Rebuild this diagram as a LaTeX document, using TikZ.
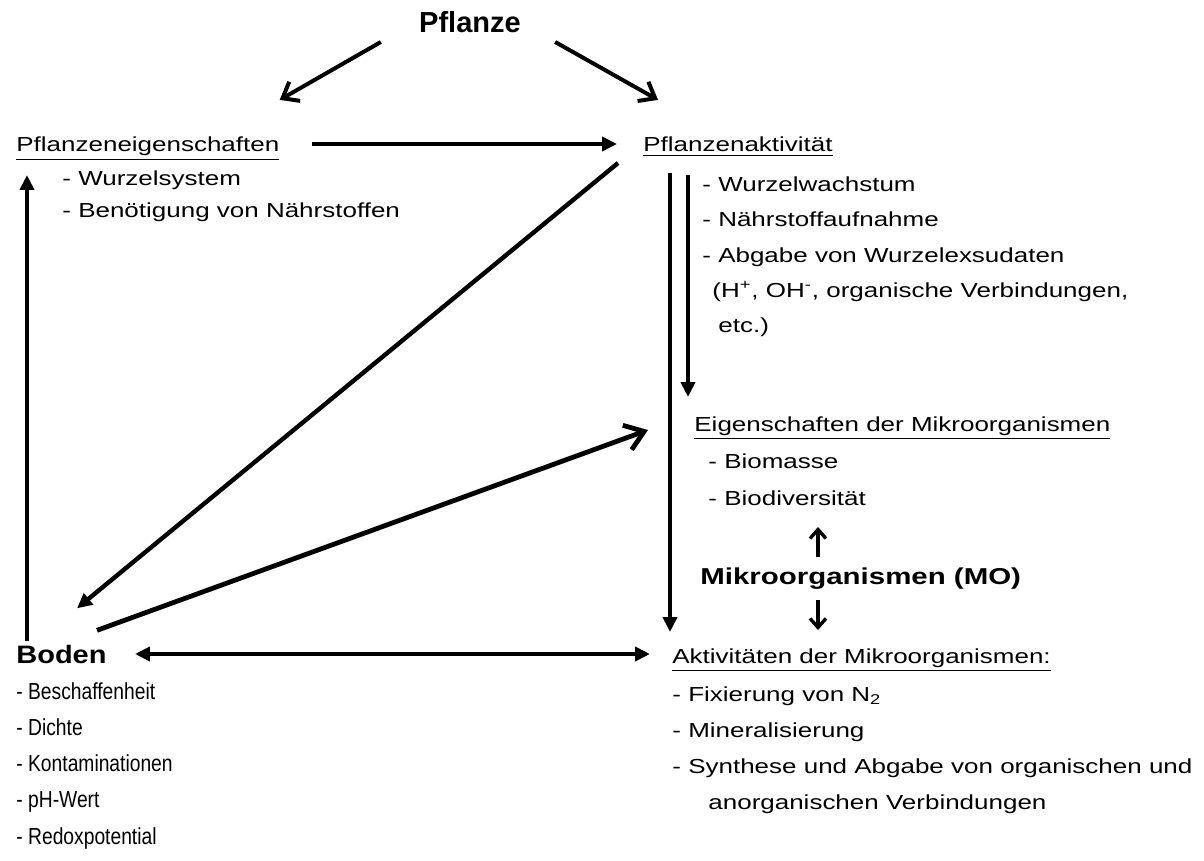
\documentclass[tikz,border=0pt]{standalone}
\usepackage{fontspec}
\setmainfont{Liberation Sans}[FakeStretch=1.28]
\newfontfamily\plainfont{Liberation Sans}
\newfontfamily\narrowfont{Liberation Sans}[FakeStretch=0.83]
\newfontfamily\bodenfont{Liberation Sans}[FakeStretch=1.15]
\usetikzlibrary{arrows.meta}

\begin{document}
\begin{tikzpicture}[x=0.5pt, y=-0.5pt,
    txt/.style={inner sep=0pt, anchor=base west, font=\fontsize{10.15}{12}\selectfont},
    narrow/.style={txt, font=\narrowfont\fontsize{11.6}{13}\selectfont},
    fat/.style={line width=2.2pt, -{Triangle[length=7.5pt, width=7pt]}},
    barb/.style={line width=2pt, -{Straight Barb[length=7pt, width=11pt]}},
    thin/.style={line width=1.7pt, -{Straight Barb[length=4.5pt, width=8pt]}}]
    \useasboundingbox (0,0) rectangle (1204,861);

    % Pflanze
    \node[inner sep=0pt, anchor=base, font=\plainfont\fontsize{14.5}{16}\selectfont\bfseries] (pfl) at (470,33) {Pflanze};

    \node[txt] (pe) at (16,152) {\underline{Pflanzeneigenschaften}};
    \node[txt] (pe1) at (62,186) {- Wurzelsystem};
    \node[txt] (pe2) at (62,218) {- Benötigung von Nährstoffen};

    \node[txt] (pa) at (643,152) {\underline{Pflanzenaktivität}};
    \foreach \x/\y/\t [count=\i] in {702/192/{- Wurzelwachstum}, 702/227/{- Nährstoffaufnahme},
        702/263/{- Abgabe von Wurzelexsudaten},
        712/297/{(H\textsuperscript{+}, OH\textsuperscript{-}, organische Verbindungen,}, 718/332/{etc.)}}
        \node[txt] (pa\i) at (\x,\y) {\t};

    % Mikroorganismen
    \node[txt] (em) at (694,431) {\underline{Eigenschaften der Mikroorganismen}};
    \node[txt] (em1) at (708,468) {- Biomasse};
    \node[txt] (em2) at (708,505) {- Biodiversität};
    \node[txt, font=\fontsize{11.5}{14}\selectfont\bfseries] (mo) at (700,584) {Mikroorganismen (MO)};

    \node[txt] (am) at (672,663) {\underline{Aktivitäten der Mikroorganismen:}};
    \foreach \x/\y/\t [count=\i] in {672/701/{- Fixierung von N\textsubscript{2}}, 672/737/{- Mineralisierung},
        672/773/{- Synthese und Abgabe von organischen und}, 708/809/{anorganischen Verbindungen}}
        \node[txt] (am\i) at (\x,\y) {\t};

    % Boden
    \node[txt, font=\bodenfont\fontsize{12.6}{14}\selectfont\bfseries] (boden) at (16,663) {Boden};
    \foreach \t [count=\i] in {Beschaffenheit, Dichte, Kontaminationen, pH-Wert, Redoxpotential}
        \node[narrow] (bd\i) at (16,{699+36.3*(\i-1)}) {- \t};

    % Pfeile
    \draw[barb] ([shift={(-38,9)}]pfl.base west) -- ([shift={(0,-37)}]pe.north east);
    \draw[barb] ([shift={(34,9)}]pfl.base east) -- ([shift={(15,-37)}]pa.north west);
    \draw[fat] ([shift={(32,-8)}]pe.base east) -- ([shift={(-26,-8)}]pa.base west);
    \draw[fat] ([shift={(-25,11)}]pa.base west) -- ([shift={(61,-36)}]boden.north west);
    \draw[barb, line width=2.4pt, -{Straight Barb[length=9pt, width=13pt]}] ([shift={(81,-14)}]boden.north west) -- ([shift={(-46,-1)}]em.base west);
    \draw[fat] ([shift={(11,-3)}]boden.north west) -- ([shift={(11,23)}]pe.base west);
    \draw[fat, {Triangle[length=7.5pt, width=7pt]}-{Triangle[length=7.5pt, width=7pt]}] ([shift={(28,-9)}]boden.base east) -- ([shift={(-22,-9)}]am.base west);
    \draw[fat] ([shift={(27,21)}]pa.base west) -- ([shift={(-2,-31)}]am.base west);
    \draw[fat] ([shift={(45,23)}]pa.base west) -- ([shift={(-6,-34)}]em.base west);
    \draw[thin] ([shift={(118,-27)}]mo.base west) -- ([shift={(110,22)}]em2.base west);
    \draw[thin] ([shift={(118,16)}]mo.base west) -- ([shift={(146,-33)}]am.base west);
\end{tikzpicture}
\end{document}
